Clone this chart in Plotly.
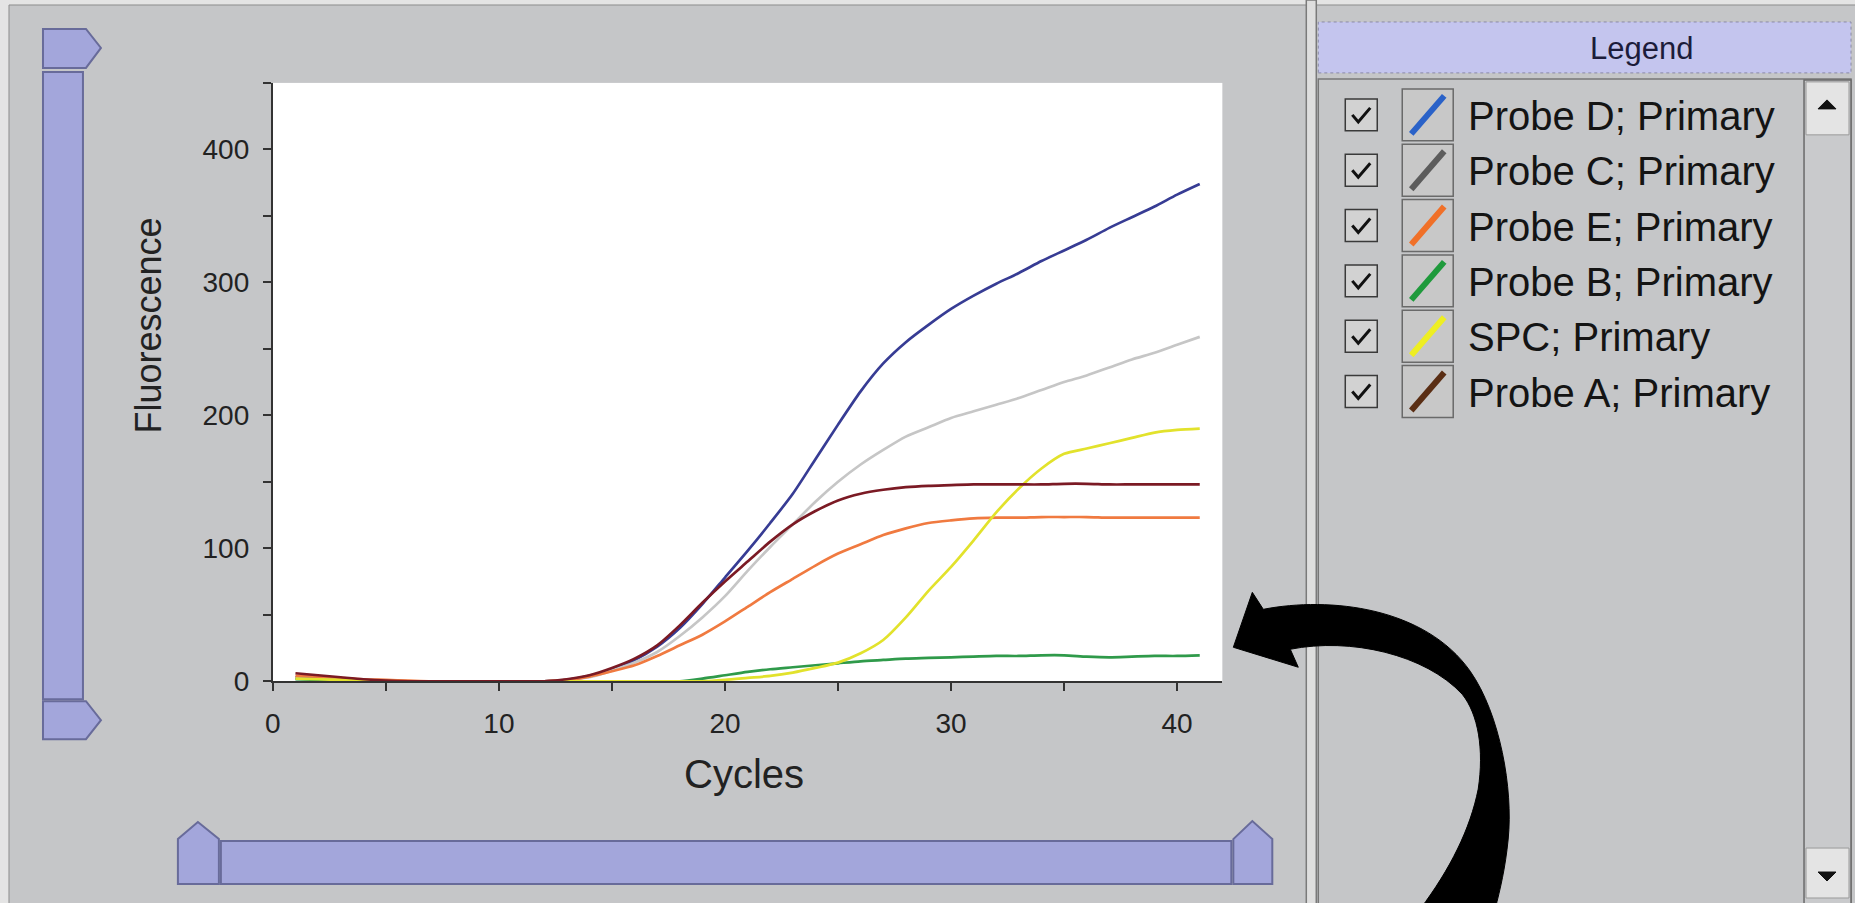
import plotly.graph_objects as go

W, H = 1855, 903
# effective paper area observed in the rendered page
PX0, PW = 7, 1848
HE = 888

# ---------------- data ----------------
cycles = list(range(1, 42))

probe_d = [3, 2.5, 1.5, 1, 0.5, 0, 0, 0, 0, 0, 0, 0, 1, 4, 9, 16, 26, 40, 58, 78,
           98, 119, 141, 167, 193, 218, 239, 255, 268, 280, 290, 299, 307, 316, 324,
           332, 341, 349, 357, 366, 374]
probe_c = [2, 1.5, 1, 0.5, 0, 0, 0, 0, 0, 0, 0, 0, 1, 3, 8, 14, 22, 34, 48, 64,
           83, 101, 118, 135, 150, 163, 174, 184, 191, 198, 203, 208, 213, 219, 225,
           230, 236, 242, 247, 253, 259]
probe_e = [4, 3.5, 2.5, 1.5, 1, 0.5, 0, 0, 0, 0, 0, 0, 1, 3.5, 7.5, 12, 19, 27, 35, 45,
           56, 67, 77, 87, 96, 103, 110, 115, 119, 121, 122.5, 123, 123, 123.5, 123.5,
           123.5, 123, 123, 123, 123, 123]
probe_b = [1.5, 1, 0.5, 0, 0, 0, 0, 0, 0, 0, 0, 0, 0, 0, 0, 0, 0, 0, 2, 4.5,
           7, 9, 10.5, 12, 13.5, 15, 16, 17, 17.5, 18, 18.5, 19, 19, 19.5, 19.5,
           18.5, 18, 18.5, 19, 19, 19.5]
spc = [2, 1.5, 1, 0.5, 0, 0, 0, 0, 0, 0, 0, 0, 0, 0, 0, 0, 0, 0, 0, 1,
       2.5, 4, 6.5, 10, 14, 21, 31, 48, 68, 86, 106, 127, 145, 160, 171,
       175, 179, 183, 187, 189, 190]
probe_a = [6, 4.5, 3, 1.5, 0.5, 0, 0, 0, 0, 0, 0, 0, 1.5, 4.5, 10, 17, 27, 42, 59, 75,
           90, 105, 118, 128, 136, 141, 144, 146, 147, 147.5, 148, 148, 148, 148, 148.5,
           148.5, 148, 148, 148, 148, 148]

series_names = ["Probe D; Primary", "Probe C; Primary", "Probe E; Primary",
                "Probe B; Primary", "SPC; Primary", "Probe A; Primary"]
series_values = [probe_d, probe_c, probe_e, probe_b, spc, probe_a]

x_tick_vals = [0, 5, 10, 15, 20, 25, 30, 35, 40]
x_tick_text = ["0", "", "10", "", "20", "", "30", "", "40"]
y_tick_vals = [0, 50, 100, 150, 200, 250, 300, 350, 400, 450]
y_tick_text = ["0", "", "100", "", "200", "", "300", "", "400", ""]

# ---------------- styles ----------------
line_colors = ["#373c94", "#c6c6c6", "#f07a40", "#2f9a4a", "#e2e22c", "#7b1a24"]
swatch_colors = ["#2a62c8", "#5c5c5c", "#f07028", "#1f9a3c", "#eeee22", "#5a2e14"]
BG = "#c5c6c8"
FONT = "Liberation Sans, Arial, Helvetica, sans-serif"


def X(px):
    return (px - PX0) / PW


def Y(py):
    return 1 - py / HE


def P(*segs, close=True):
    out = []
    for seg in segs:
        cmd, pts = seg[0], list(seg[1:])
        n = 3 if cmd == "C" else 1
        for k in range(0, len(pts), n):
            grp = pts[k:k + n]
            out.append(cmd + " " + " ".join(f"{X(x):.5f},{Y(y):.5f}" for x, y in grp))
    return " ".join(out) + (" Z" if close else "")


def rect(x0, y0, x1, y1, fill=None, line="#666", lw=1, dash=None, layer="below"):
    d = dict(type="rect", xref="paper", yref="paper",
             x0=X(x0), x1=X(x1), y0=Y(y1), y1=Y(y0),
             line=dict(color=line, width=lw), layer=layer)
    if dash:
        d["line"]["dash"] = dash
    if fill:
        d["fillcolor"] = fill
    return d


def pathshape(p, fill=None, line="#666", lw=1, layer="below"):
    d = dict(type="path", xref="paper", yref="paper", path=p,
             line=dict(color=line, width=lw), layer=layer)
    if fill:
        d["fillcolor"] = fill
    return d


def seg(x0, y0, x1, y1, color, lw, layer="above"):
    return dict(type="line", xref="paper", yref="paper",
                x0=X(x0), y0=Y(y0), x1=X(x1), y1=Y(y1),
                line=dict(color=color, width=lw), layer=layer)


fig = go.Figure()
for name, vals, col in zip(series_names, series_values, line_colors):
    fig.add_trace(go.Scatter(x=cycles, y=vals, mode="lines", name=name,
                             line=dict(color=col, width=2.7, shape="spline", smoothing=0.7),
                             showlegend=False))

shapes = []
annotations = []

# light outer border strips
shapes.append(rect(-10, -10, W, 5, fill="#e4e4e4", line="rgba(0,0,0,0)", lw=0))
shapes.append(rect(-10, -10, 8, HE + 20, fill="#e4e4e4", line="rgba(0,0,0,0)", lw=0))
shapes.append(seg(8, 5, W, 5, "#8c8c8c", 1, layer="below"))
shapes.append(seg(8, 5, 8, HE + 20, "#8c8c8c", 1, layer="below"))

# sliders
SL_FILL, SL_LINE = "#a3a6db", "#686b9a"
shapes.append(rect(42, 72, 82, 700, fill=SL_FILL, line=SL_LINE, lw=2))
shapes.append(pathshape(P(("M", (42, 29)), ("L", (85, 29), (100, 48), (85, 68), (42, 68))),
                        fill=SL_FILL, line=SL_LINE, lw=2))
shapes.append(pathshape(P(("M", (42, 702)), ("L", (85, 702), (100, 721), (85, 740), (42, 740))),
                        fill=SL_FILL, line=SL_LINE, lw=2))
shapes.append(rect(220, 842, 1231, 885, fill=SL_FILL, line=SL_LINE, lw=2))
shapes.append(pathshape(P(("M", (177, 885)), ("L", (177, 840), (197, 823), (218, 840), (218, 885))),
                        fill=SL_FILL, line=SL_LINE, lw=2))
shapes.append(pathshape(P(("M", (1233, 885)), ("L", (1233, 840), (1252, 822), (1272, 840), (1272, 885))),
                        fill=SL_FILL, line=SL_LINE, lw=2))

# divider between chart and legend panel
shapes.append(rect(1306, 0, 1316, HE + 20, fill="#dedede", line="#7a7a7a", lw=1.5))

# legend header
shapes.append(rect(1318, 22, 1851, 73, fill="#c4c5ee", line="#8a8aa6", lw=1, dash="dot"))
annotations.append(dict(text="Legend", xref="paper", yref="paper", x=X(1641), y=Y(49),
                        showarrow=False, xanchor="center", yanchor="middle",
                        font=dict(family=FONT, size=31, color="#1c1c3a")))
# list box
shapes.append(rect(1318, 79, 1851, HE + 20, line="#777777", lw=1.5))
# scrollbar
shapes.append(rect(1804, 80, 1851, HE + 20, fill="#c9cacc", line="#6a6a6a", lw=1.5))
shapes.append(rect(1806, 82, 1849, 135, fill="#e4e4e4", line="#9a9a9a", lw=1))
shapes.append(pathshape(P(("M", (1818, 109)), ("L", (1827, 100), (1836, 109))),
                        fill="#111111", line="#111111", lw=1))
shapes.append(rect(1806, 849, 1849, 899, fill="#e4e4e4", line="#9a9a9a", lw=1))
shapes.append(pathshape(P(("M", (1818, 873)), ("L", (1836, 873), (1827, 882))),
                        fill="#111111", line="#111111", lw=1))

# legend rows
row_y0, row_step = 115, 55.4
for i, (name, scol) in enumerate(zip(series_names, swatch_colors)):
    cy = row_y0 + i * row_step
    shapes.append(rect(1345, cy - 16, 1377, cy + 16, fill="#d2d2d2", line="#3a3a3a", lw=1.5))
    shapes.append(pathshape(P(("M", (1352, cy)), ("L", (1358, cy + 7), (1370, cy - 7)), close=False),
                            line="#111111", lw=3))
    shapes.append(rect(1402, cy - 26, 1453, cy + 26, fill="#c8c8c8", line="#6a6a6a", lw=1.5))
    shapes.append(seg(1411, cy + 19, 1444, cy - 19, scol, 6))
    annotations.append(dict(text=name, xref="paper", yref="paper",
                            x=X(1466), y=Y(cy + 1), showarrow=False,
                            xanchor="left", yanchor="middle",
                            font=dict(family=FONT, size=40, color="#141414")))

# big curved arrow
arrow = P(("M", (1233, 648)),
          ("L", (1252, 593), (1263, 610)),
          ("C", (1330, 597), (1425, 608), (1470, 672)),
          ("C", (1500, 715), (1513, 790), (1508, 840)),
          ("C", (1505, 870), (1500, 890), (1495, 910)),
          ("L", (1420, 910)),
          ("C", (1450, 870), (1470, 830), (1478, 790)),
          ("C", (1484, 750), (1478, 715), (1462, 695)),
          ("C", (1425, 655), (1350, 638), (1290, 650)),
          ("L", (1298, 668)))
shapes.append(pathshape(arrow, fill="#000000", line="#000000", lw=1, layer="above"))

# axis titles
annotations.append(dict(text="Fluorescence", xref="paper", yref="paper",
                        x=X(148), y=Y(326), showarrow=False, textangle=-90,
                        xanchor="center", yanchor="middle",
                        font=dict(family=FONT, size=36, color="#222222")))
annotations.append(dict(text="Cycles", xref="paper", yref="paper",
                        x=X(743), y=Y(775), showarrow=False,
                        xanchor="center", yanchor="middle",
                        font=dict(family=FONT, size=40, color="#222222")))

fig.update_layout(
    width=W, height=H, autosize=False,
    margin=dict(l=0, r=0, t=0, b=0, pad=0),
    paper_bgcolor=BG, plot_bgcolor="#ffffff",
    shapes=shapes, annotations=annotations,
    font=dict(family=FONT, color="#222222"),
    xaxis=dict(domain=[X(272), X(1222)], range=[0, 42], showgrid=False, zeroline=False,
               showline=True, linecolor="#333333", linewidth=2,
               ticks="outside", ticklen=8, tickwidth=2, tickcolor="#333333",
               tickmode="array", tickvals=x_tick_vals, ticktext=x_tick_text,
               tickfont=dict(family=FONT, size=28, color="#222222"),
               ticklabelstandoff=8),
    yaxis=dict(domain=[Y(682), Y(83)], range=[0, 450], showgrid=False, zeroline=False,
               showline=True, linecolor="#333333", linewidth=2,
               ticks="outside", ticklen=8, tickwidth=2, tickcolor="#333333",
               tickmode="array", tickvals=y_tick_vals, ticktext=y_tick_text,
               tickfont=dict(family=FONT, size=28, color="#222222"),
               ticklabelstandoff=8),
    showlegend=False,
)

fig.write_html("out.html")
